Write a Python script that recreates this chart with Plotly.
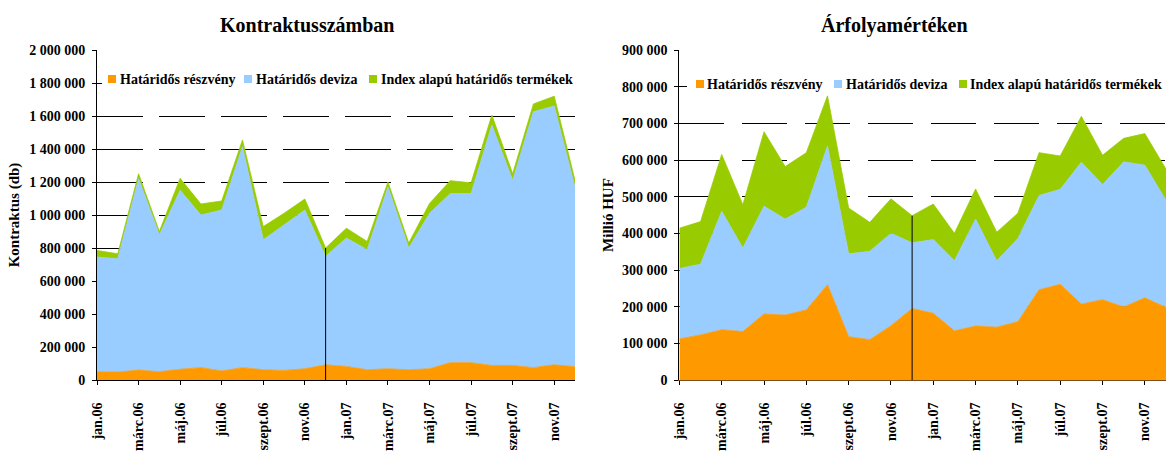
import plotly.graph_objects as go

months = ["jan.06", "febr.06", "márc.06", "ápr.06", "máj.06", "jún.06",
          "júl.06", "aug.06", "szept.06", "okt.06", "nov.06", "dec.06",
          "jan.07", "febr.07", "márc.07", "ápr.07", "máj.07", "jún.07",
          "júl.07", "aug.07", "szept.07", "okt.07", "nov.07", "dec.07"]
tick_months = months[::2]
split_month = "dec.06"

series_names = ["Határidős részvény", "Határidős deviza", "Index alapú határidős termékek"]
colors = ["#FF9900", "#99CCFF", "#99CC00"]

# Kontraktusszámban (db)
reszveny_db = [50000, 48000, 60000, 50000, 65000, 75000, 55000, 75000, 62000, 58000, 68000, 92000,
               82000, 62000, 68000, 62000, 68000, 105000, 105000, 88000, 88000, 75000, 92000, 80000]
deviza_db = [695000, 687000, 1160000, 830000, 1085000, 925000, 975000, 1339000, 788000, 882000, 962000, 658000,
             778000, 728000, 1102000, 738000, 942000, 1025000, 1025000, 1457000, 1122000, 1551000, 1568000, 1090000]
index_db = [40000, 30000, 30000, 20000, 72000, 67000, 55000, 41000, 80000, 70000, 67000, 50000,
            60000, 50000, 30000, 30000, 60000, 78000, 65000, 61000, 40000, 47000, 60000, 40000]

# Árfolyamértéken (millió HUF)
reszveny_huf = [112000, 123000, 137000, 132000, 180000, 177000, 191000, 260000, 118000, 110000, 148000, 195000,
                182000, 134000, 147000, 144000, 159000, 246000, 261000, 207000, 219000, 199000, 224000, 198000]
deviza_huf = [192000, 193000, 323000, 228000, 294000, 262000, 280000, 378000, 226000, 241000, 252000, 179000,
              201000, 191000, 292000, 181000, 227000, 257000, 259000, 387000, 314000, 396000, 362000, 292000]
index_huf = [110000, 116000, 155000, 118000, 203000, 143000, 149000, 137000, 125000, 79000, 94000, 74000,
             97000, 75000, 82000, 78000, 69000, 117000, 91000, 125000, 80000, 64000, 86000, 85000]

FONT = "Liberation Serif"
fig = go.Figure()

panels = [
    ("x", "y", "left", [reszveny_db, deviza_db, index_db]),
    ("x2", "y2", "right", [reszveny_huf, deviza_huf, index_huf]),
]
for xa, ya, grp, data in panels:
    for name, col, vals in zip(series_names, colors, data):
        fig.add_trace(go.Scatter(
            x=months, y=vals, name=name, xaxis=xa, yaxis=ya,
            stackgroup=grp, mode="lines", line=dict(color=col, width=0.8),
            fillcolor=col, showlegend=False, hoverinfo="x+y+name"))
    i = months.index(split_month)
    tot = sum(d[i] for d in data)
    fig.add_trace(go.Scatter(x=[split_month, split_month], y=[0, tot], xaxis=xa, yaxis=ya,
                             mode="lines", line=dict(color="black", width=1),
                             showlegend=False, hoverinfo="skip"))

W, H = 1166, 455
ML, MR, MT, MB = 97, 0, 50, 75
PW, PH = W - ML - MR, H - MT - MB

def px(xp):
    return (xp - ML) / PW

def py(yp):
    return (H - MB - yp) / PH

tickfont = dict(family=FONT, size=14, color="black", weight="bold")

common_x = dict(type="category", categoryorder="array", categoryarray=months,
                range=[0, len(months) - 1], tickmode="array", tickvals=tick_months,
                ticktext=tick_months, tickangle=-90, ticks="outside", ticklen=4,
                tickcolor="black", showline=True, linewidth=1, showgrid=False,
                tickfont=tickfont, ticklabelstandoff=12)
common_y = dict(ticks="outside", ticklen=4, tickcolor="black", showline=True,
                linecolor="black", linewidth=1, showgrid=True, gridcolor="black",
                gridwidth=1, zeroline=False, tickformat=",d", tickfont=tickfont,
                ticklabelstandoff=4)

fig.update_layout(
    width=W, height=H,
    margin=dict(l=ML, r=MR, t=MT, b=MB),
    paper_bgcolor="white", plot_bgcolor="white",
    separators=". ",
    showlegend=False,
    xaxis=dict(domain=[0, px(575)], anchor="y", linecolor="black", **common_x),
    xaxis2=dict(domain=[px(679.4), 1], anchor="y2", linecolor="#7a5020", **common_x),
    yaxis=dict(domain=[0, 1], anchor="x", range=[0, 2000000], dtick=200000,
               griddash="46px,16px",
               title=dict(text="Kontraktus (db)", standoff=5,
                          font=dict(family=FONT, size=15, color="black", weight="bold")),
               **common_y),
    yaxis2=dict(domain=[0, 1], anchor="x2", range=[0, 900000], dtick=100000,
                griddash="45px,18px",
                title=dict(text="Millió HUF", standoff=4,
                           font=dict(family=FONT, size=15, color="black", weight="bold")),
                **common_y),
)

annotations = [
    dict(text="<b>Kontraktusszámban</b>", x=px(307), y=py(25), xref="paper", yref="paper",
         showarrow=False, xanchor="center", yanchor="middle",
         font=dict(family=FONT, size=20, color="black")),
    dict(text="<b>Árfolyamértéken</b>", x=px(895), y=py(25), xref="paper", yref="paper",
         showarrow=False, xanchor="center", yanchor="middle",
         font=dict(family=FONT, size=20, color="black")),
]
shapes = []
legend_layout = [
    # (box x0, box x1, box y0, box y1, text centre y, [(square x, text x), ...])
    (102, 575, 68, 92, 79, [(108, 120), (244, 256), (369, 381)]),
    (687, 1166, 71, 94, 84, [(696, 707), (834, 846), (959, 970)]),
]
for bx0, bx1, by0, by1, yc, items in legend_layout:
    shapes.append(dict(type="rect", xref="paper", yref="paper",
                       x0=px(bx0), x1=px(bx1), y0=py(by1), y1=py(by0),
                       fillcolor="white", line=dict(width=0), layer="above"))
    for (sx, tx), name, col in zip(items, series_names, colors):
        shapes.append(dict(type="rect", xref="paper", yref="paper",
                           x0=px(sx), x1=px(sx + 8), y0=py(yc + 4), y1=py(yc - 4),
                           fillcolor=col, line=dict(width=0), layer="above"))
        annotations.append(dict(text="<b>" + name + "</b>", x=px(tx - 2), y=py(yc),
                                xref="paper", yref="paper", showarrow=False,
                                xanchor="left", yanchor="middle",
                                font=dict(family=FONT, size=14, color="black")))
fig.update_layout(annotations=annotations, shapes=shapes)

fig.write_html("out.html",
               config={"displayModeBar": False},
               post_script="document.body.style.margin='0px';document.body.style.overflow='hidden';")
